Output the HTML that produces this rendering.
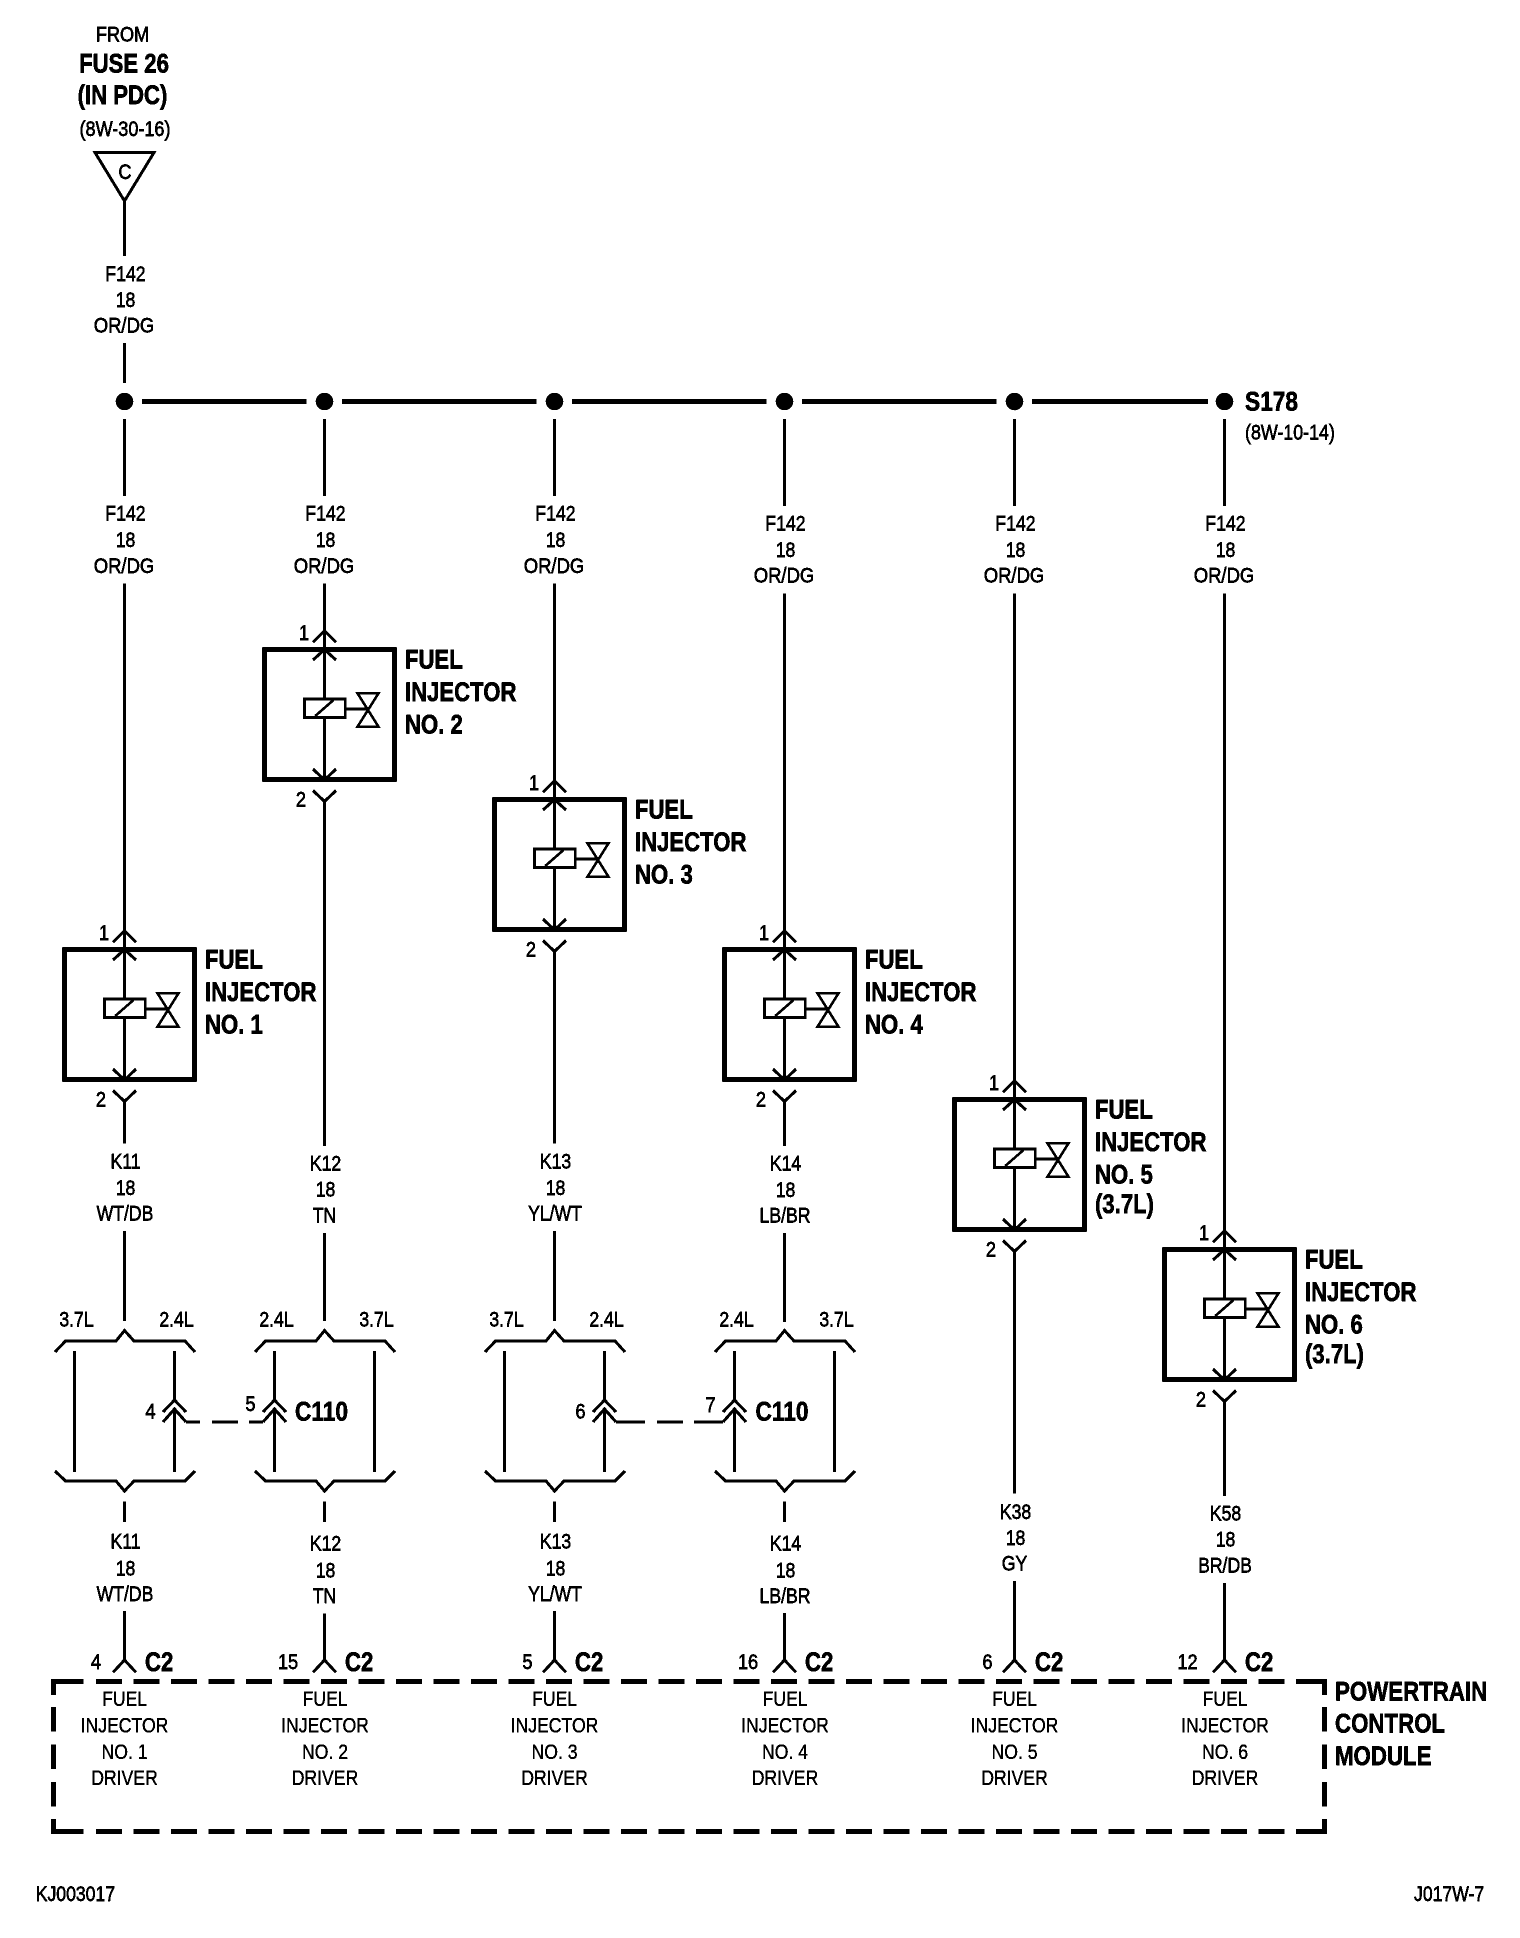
<!DOCTYPE html>
<html lang="en"><head><meta charset="utf-8"><title>Fuel Injector Wiring Diagram</title>
<style>
html,body{margin:0;padding:0;background:#fff}
svg{display:block}
.l{fill:none;stroke:#000;stroke-width:3}
text{fill:#000;font-family:"Liberation Sans",Arial,sans-serif;stroke:#000;translate:0 -1px}
.r{font-size:21.5px;stroke-width:.7;text-anchor:middle}
.s{font-size:21.5px;stroke-width:.7;text-anchor:start}
.d{font-size:21.5px;stroke-width:.4;text-anchor:middle}
.b{font-size:27px;font-weight:bold;stroke-width:.7;text-anchor:start}
.c{font-size:27px;font-weight:bold;stroke-width:.7;text-anchor:middle}
</style></head><body>
<svg xmlns="http://www.w3.org/2000/svg" width="1520" height="1938" viewBox="0 0 1520 1938">
<defs>
<filter id="bw" x="0" y="0" width="100%" height="100%" color-interpolation-filters="sRGB"><feComponentTransfer><feFuncR type="discrete" tableValues="0 1"/><feFuncG type="discrete" tableValues="0 1"/><feFuncB type="discrete" tableValues="0 1"/></feComponentTransfer></filter>
<g id="inj">
<rect x="-60" y="0" width="130" height="130" fill="none" stroke="#000" stroke-width="4.6"/>
<path class="l" d="M0 -18.8V49.5M0 68V130.5M-11.5 -7.2L0 -18.8L11.5 -7.2M-11.5 10.5L0 0L11.5 10.5M-11.5 119.5L0 130.5L11.5 119.5M-11.5 141L0 152L11.5 141M0 152V156"/>
<rect x="-20" y="49.5" width="40.7" height="18.5" fill="none" stroke="#000" stroke-width="2.8"/>
<path class="l" style="stroke-width:2.6" d="M-9.3 66.5L9 50.5M20.7 59.5H43.5M33 43.8H54L33 77.2H54Z"/>
</g>
<g id="brk">
<path class="l" d="M-69.5 1352L-59 1341H-8.5L0 1330.5L9.5 1341H60.5L70.5 1352"/>
<path class="l" d="M-69.5 1471L-59 1481H-8.5L0 1491L9.5 1481H60.5L70.5 1471"/>
<path class="l" d="M0 1501.5V1522"/>
</g>
<g id="chev">
<path class="l" d="M-11.5 1412L0 1400L11.5 1412M-11.5 1422L0 1409L11.5 1422"/>
</g>
<path id="pcm" class="l" d="M-11.5 1672.4L0 1660L11.5 1672.4"/>
</defs>
<g filter="url(#bw)">
<rect width="1520" height="1938" fill="#fff"/>

<!-- top source -->
<text class="r" transform="translate(122.5 42.7) scale(.84 1)">FROM</text>
<text class="c" transform="translate(124 73.5) scale(.82 1)">FUSE 26</text>
<text class="c" transform="translate(122.5 105) scale(.82 1)">(IN PDC)</text>
<text class="r" transform="translate(125 137) scale(.84 1)">(8W-30-16)</text>
<path class="l" d="M95 152.5H154L124.5 201Z"/>
<text class="r" transform="translate(125 180) scale(.85 1)">C</text>
<path class="l" d="M124.5 201V256M124.5 343V383"/>
<text class="r" transform="translate(125.5 282) scale(.82 1)">F142</text>
<text class="r" transform="translate(125.5 308) scale(.82 1)">18</text>
<text class="r" transform="translate(124 333.5) scale(.86 1)">OR/DG</text>

<!-- bus -->
<path fill="none" stroke="#000" stroke-width="5.2" d="M142 401.5H306.7M342 401.5H536.7M572 401.5H766.7M802 401.5H996.7M1032 401.5H1208"/>
<circle cx="124.5" cy="401.5" r="8.8"/><circle cx="324.5" cy="401.5" r="8.8"/><circle cx="554.5" cy="401.5" r="8.8"/><circle cx="784.5" cy="401.5" r="8.8"/><circle cx="1014.5" cy="401.5" r="8.8"/><circle cx="1224.5" cy="401.5" r="8.8"/>
<text class="b" transform="translate(1245 411.7) scale(.84 1)">S178</text>
<text class="s" transform="translate(1245 440.7) scale(.83 1)">(8W-10-14)</text>

<!-- vertical wires -->
<path class="l" d="M124.5 419V496M124.5 583.5V931M124.5 1101V1143.3M124.5 1231V1321M124.5 1611V1660"/>
<path class="l" d="M324.5 419V496M324.5 583.5V631M324.5 801V1145.7M324.5 1233.3V1321M324.5 1613.4V1660"/>
<path class="l" d="M554.5 419V496M554.5 583.5V781M554.5 951V1143.3M554.5 1231V1321M554.5 1611V1660"/>
<path class="l" d="M784.5 419V506M784.5 593.4V931M784.5 1101V1145.7M784.5 1233.3V1321.7M784.5 1613V1660"/>
<path class="l" d="M1014.5 419V506M1014.5 593.4V1081M1014.5 1251V1493.3M1014.5 1581V1660"/>
<path class="l" d="M1224.5 419V506M1224.5 593.4V1231M1224.5 1401V1495.7M1224.5 1583.3V1660"/>

<!-- F142 labels -->
<text class="r" transform="translate(125.5 521.7) scale(.82 1)">F142</text><text class="r" transform="translate(125.5 548) scale(.82 1)">18</text><text class="r" transform="translate(124 574) scale(.86 1)">OR/DG</text>
<text class="r" transform="translate(325.5 521.7) scale(.82 1)">F142</text><text class="r" transform="translate(325.5 548) scale(.82 1)">18</text><text class="r" transform="translate(324 574) scale(.86 1)">OR/DG</text>
<text class="r" transform="translate(555.5 521.7) scale(.82 1)">F142</text><text class="r" transform="translate(555.5 548) scale(.82 1)">18</text><text class="r" transform="translate(554 574) scale(.86 1)">OR/DG</text>
<text class="r" transform="translate(785.5 531.7) scale(.82 1)">F142</text><text class="r" transform="translate(785.5 558) scale(.82 1)">18</text><text class="r" transform="translate(784 583.5) scale(.86 1)">OR/DG</text>
<text class="r" transform="translate(1015.5 531.7) scale(.82 1)">F142</text><text class="r" transform="translate(1015.5 558) scale(.82 1)">18</text><text class="r" transform="translate(1014 583.5) scale(.86 1)">OR/DG</text>
<text class="r" transform="translate(1225.5 531.7) scale(.82 1)">F142</text><text class="r" transform="translate(1225.5 558) scale(.82 1)">18</text><text class="r" transform="translate(1224 583.5) scale(.86 1)">OR/DG</text>

<!-- injectors -->
<use href="#inj" x="124.5" y="949.5"/>
<use href="#inj" x="324.5" y="649.5"/>
<use href="#inj" x="554.5" y="799.5"/>
<use href="#inj" x="784.5" y="949.5"/>
<use href="#inj" x="1014.5" y="1099.5"/>
<use href="#inj" x="1224.5" y="1249.5"/>

<!-- injector pin numbers -->
<text class="r" transform="translate(104 941) scale(.85 1)">1</text><text class="r" transform="translate(101 1107.5) scale(.85 1)">2</text>
<text class="r" transform="translate(304 641) scale(.85 1)">1</text><text class="r" transform="translate(301 807.5) scale(.85 1)">2</text>
<text class="r" transform="translate(534 791) scale(.85 1)">1</text><text class="r" transform="translate(531 957.5) scale(.85 1)">2</text>
<text class="r" transform="translate(764 941) scale(.85 1)">1</text><text class="r" transform="translate(761 1107.5) scale(.85 1)">2</text>
<text class="r" transform="translate(994 1091) scale(.85 1)">1</text><text class="r" transform="translate(991 1257.5) scale(.85 1)">2</text>
<text class="r" transform="translate(1204 1241) scale(.85 1)">1</text><text class="r" transform="translate(1201 1407.5) scale(.85 1)">2</text>

<!-- injector titles -->
<text class="b" transform="translate(205 969.3) scale(.82 1)">FUEL</text><text class="b" transform="translate(205 1002) scale(.82 1)">INJECTOR</text><text class="b" transform="translate(205 1034.3) scale(.82 1)">NO. 1</text>
<text class="b" transform="translate(405 669.3) scale(.82 1)">FUEL</text><text class="b" transform="translate(405 702) scale(.82 1)">INJECTOR</text><text class="b" transform="translate(405 734.3) scale(.82 1)">NO. 2</text>
<text class="b" transform="translate(635 819.3) scale(.82 1)">FUEL</text><text class="b" transform="translate(635 852) scale(.82 1)">INJECTOR</text><text class="b" transform="translate(635 884.3) scale(.82 1)">NO. 3</text>
<text class="b" transform="translate(865 969.3) scale(.82 1)">FUEL</text><text class="b" transform="translate(865 1002) scale(.82 1)">INJECTOR</text><text class="b" transform="translate(865 1034.3) scale(.82 1)">NO. 4</text>
<text class="b" transform="translate(1095 1119.3) scale(.82 1)">FUEL</text><text class="b" transform="translate(1095 1152) scale(.82 1)">INJECTOR</text><text class="b" transform="translate(1095 1184.3) scale(.82 1)">NO. 5</text><text class="b" transform="translate(1095 1214) scale(.82 1)">(3.7L)</text>
<text class="b" transform="translate(1305 1269.3) scale(.82 1)">FUEL</text><text class="b" transform="translate(1305 1302) scale(.82 1)">INJECTOR</text><text class="b" transform="translate(1305 1334.3) scale(.82 1)">NO. 6</text><text class="b" transform="translate(1305 1364) scale(.82 1)">(3.7L)</text>

<!-- K labels above C110 / PCM -->
<text class="r" transform="translate(125.5 1169.5) scale(.82 1)">K11</text><text class="r" transform="translate(125.5 1196) scale(.82 1)">18</text><text class="r" transform="translate(125 1221.7) scale(.82 1)">WT/DB</text>
<text class="r" transform="translate(325.5 1171.7) scale(.82 1)">K12</text><text class="r" transform="translate(325.5 1197.5) scale(.82 1)">18</text><text class="r" transform="translate(324.5 1223.3) scale(.82 1)">TN</text>
<text class="r" transform="translate(555.5 1169.5) scale(.82 1)">K13</text><text class="r" transform="translate(555.5 1196) scale(.82 1)">18</text><text class="r" transform="translate(555 1221.7) scale(.82 1)">YL/WT</text>
<text class="r" transform="translate(785.5 1171.7) scale(.82 1)">K14</text><text class="r" transform="translate(785.5 1198) scale(.82 1)">18</text><text class="r" transform="translate(785 1223.3) scale(.82 1)">LB/BR</text>
<text class="r" transform="translate(1015.5 1520) scale(.82 1)">K38</text><text class="r" transform="translate(1015.5 1546) scale(.82 1)">18</text><text class="r" transform="translate(1014.5 1571.7) scale(.82 1)">GY</text>
<text class="r" transform="translate(1225.5 1521.7) scale(.82 1)">K58</text><text class="r" transform="translate(1225.5 1547.7) scale(.82 1)">18</text><text class="r" transform="translate(1225 1573.3) scale(.82 1)">BR/DB</text>

<!-- C110 brackets -->
<use href="#brk" x="124.5"/><use href="#brk" x="324.5"/><use href="#brk" x="554.5"/><use href="#brk" x="784.5"/>
<path class="l" d="M74.5 1351V1472M174.5 1351V1400M174.5 1409V1472"/>
<path class="l" d="M274.5 1351V1400M274.5 1409V1472M374.5 1351V1472"/>
<path class="l" d="M504.5 1351V1472M604.5 1351V1400M604.5 1409V1472"/>
<path class="l" d="M734.5 1351V1400M734.5 1409V1472M834.5 1351V1472"/>
<use href="#chev" x="174.5"/><use href="#chev" x="274.5"/><use href="#chev" x="604.5"/><use href="#chev" x="734.5"/>
<path class="l" d="M186 1422H200M212 1422H238M249 1422H263M616 1422H645M657 1422H683M694 1422H723"/>
<text class="r" transform="translate(76.5 1327.7) scale(.82 1)">3.7L</text><text class="r" transform="translate(176.5 1327.7) scale(.82 1)">2.4L</text>
<text class="r" transform="translate(276.5 1327.7) scale(.82 1)">2.4L</text><text class="r" transform="translate(376.5 1327.7) scale(.82 1)">3.7L</text>
<text class="r" transform="translate(506.5 1327.7) scale(.82 1)">3.7L</text><text class="r" transform="translate(606.5 1327.7) scale(.82 1)">2.4L</text>
<text class="r" transform="translate(736.5 1327.7) scale(.82 1)">2.4L</text><text class="r" transform="translate(836.5 1327.7) scale(.82 1)">3.7L</text>
<text class="r" transform="translate(150.5 1419.5) scale(.85 1)">4</text>
<text class="r" transform="translate(250.5 1412) scale(.85 1)">5</text>
<text class="r" transform="translate(580.5 1419.5) scale(.85 1)">6</text>
<text class="r" transform="translate(710.5 1413) scale(.85 1)">7</text>
<text class="b" transform="translate(295 1421.7) scale(.84 1)">C110</text>
<text class="b" transform="translate(755.5 1421.7) scale(.84 1)">C110</text>

<!-- K labels below -->
<text class="r" transform="translate(125.5 1549.5) scale(.82 1)">K11</text><text class="r" transform="translate(125.5 1576.5) scale(.82 1)">18</text><text class="r" transform="translate(125 1602) scale(.82 1)">WT/DB</text>
<text class="r" transform="translate(325.5 1551.5) scale(.82 1)">K12</text><text class="r" transform="translate(325.5 1578.5) scale(.82 1)">18</text><text class="r" transform="translate(324.5 1604) scale(.82 1)">TN</text>
<text class="r" transform="translate(555.5 1549.5) scale(.82 1)">K13</text><text class="r" transform="translate(555.5 1576.5) scale(.82 1)">18</text><text class="r" transform="translate(555 1602) scale(.82 1)">YL/WT</text>
<text class="r" transform="translate(785.5 1551.5) scale(.82 1)">K14</text><text class="r" transform="translate(785.5 1578.5) scale(.82 1)">18</text><text class="r" transform="translate(785 1604) scale(.82 1)">LB/BR</text>

<!-- PCM pins -->
<use href="#pcm" x="124.5"/><use href="#pcm" x="324.5"/><use href="#pcm" x="554.5"/><use href="#pcm" x="784.5"/><use href="#pcm" x="1014.5"/><use href="#pcm" x="1224.5"/>
<text class="r" transform="translate(96 1670) scale(.85 1)">4</text><text class="b" transform="translate(145 1672) scale(.82 1)">C2</text>
<text class="r" transform="translate(288 1670) scale(.85 1)">15</text><text class="b" transform="translate(345 1672) scale(.82 1)">C2</text>
<text class="r" transform="translate(527.5 1670) scale(.85 1)">5</text><text class="b" transform="translate(575 1672) scale(.82 1)">C2</text>
<text class="r" transform="translate(748 1670) scale(.85 1)">16</text><text class="b" transform="translate(805 1672) scale(.82 1)">C2</text>
<text class="r" transform="translate(987.5 1670) scale(.85 1)">6</text><text class="b" transform="translate(1035 1672) scale(.82 1)">C2</text>
<text class="r" transform="translate(1187.5 1670) scale(.85 1)">12</text><text class="b" transform="translate(1245 1672) scale(.82 1)">C2</text>

<!-- PCM dashed box -->
<g fill="none" stroke="#000" stroke-width="5">
<path d="M53.5 1695V1681.5H83.5M1296 1681.5H1324.5V1695M53.5 1819V1831.5H83.5M1296 1831.5H1324.5V1819"/>
<path stroke-dasharray="26 11.5" d="M96 1681.5H1285M96 1831.5H1285"/>
<path stroke-dasharray="24.5 13" d="M53.5 1707V1807M1324.5 1707V1807"/>
</g>

<!-- PCM driver text -->
<text class="d" transform="translate(124.5 1707) scale(.82 1)">FUEL</text><text class="d" transform="translate(124.5 1733.5) scale(.82 1)">INJECTOR</text><text class="d" transform="translate(124.5 1760) scale(.82 1)">NO. 1</text><text class="d" transform="translate(124.5 1786) scale(.82 1)">DRIVER</text>
<text class="d" transform="translate(325 1707) scale(.82 1)">FUEL</text><text class="d" transform="translate(325 1733.5) scale(.82 1)">INJECTOR</text><text class="d" transform="translate(325 1760) scale(.82 1)">NO. 2</text><text class="d" transform="translate(325 1786) scale(.82 1)">DRIVER</text>
<text class="d" transform="translate(554.5 1707) scale(.82 1)">FUEL</text><text class="d" transform="translate(554.5 1733.5) scale(.82 1)">INJECTOR</text><text class="d" transform="translate(554.5 1760) scale(.82 1)">NO. 3</text><text class="d" transform="translate(554.5 1786) scale(.82 1)">DRIVER</text>
<text class="d" transform="translate(785 1707) scale(.82 1)">FUEL</text><text class="d" transform="translate(785 1733.5) scale(.82 1)">INJECTOR</text><text class="d" transform="translate(785 1760) scale(.82 1)">NO. 4</text><text class="d" transform="translate(785 1786) scale(.82 1)">DRIVER</text>
<text class="d" transform="translate(1014.5 1707) scale(.82 1)">FUEL</text><text class="d" transform="translate(1014.5 1733.5) scale(.82 1)">INJECTOR</text><text class="d" transform="translate(1014.5 1760) scale(.82 1)">NO. 5</text><text class="d" transform="translate(1014.5 1786) scale(.82 1)">DRIVER</text>
<text class="d" transform="translate(1225 1707) scale(.82 1)">FUEL</text><text class="d" transform="translate(1225 1733.5) scale(.82 1)">INJECTOR</text><text class="d" transform="translate(1225 1760) scale(.82 1)">NO. 6</text><text class="d" transform="translate(1225 1786) scale(.82 1)">DRIVER</text>

<text class="b" transform="translate(1335 1701.7) scale(.825 1)">POWERTRAIN</text>
<text class="b" transform="translate(1335 1733.7) scale(.825 1)">CONTROL</text>
<text class="b" transform="translate(1335 1766) scale(.825 1)">MODULE</text>

<text class="s" transform="translate(35.7 1902) scale(.82 1)">KJ003017</text>
<text class="s" transform="translate(1414 1902) scale(.82 1)">J017W-7</text>
</g>
</svg>
</body></html>
